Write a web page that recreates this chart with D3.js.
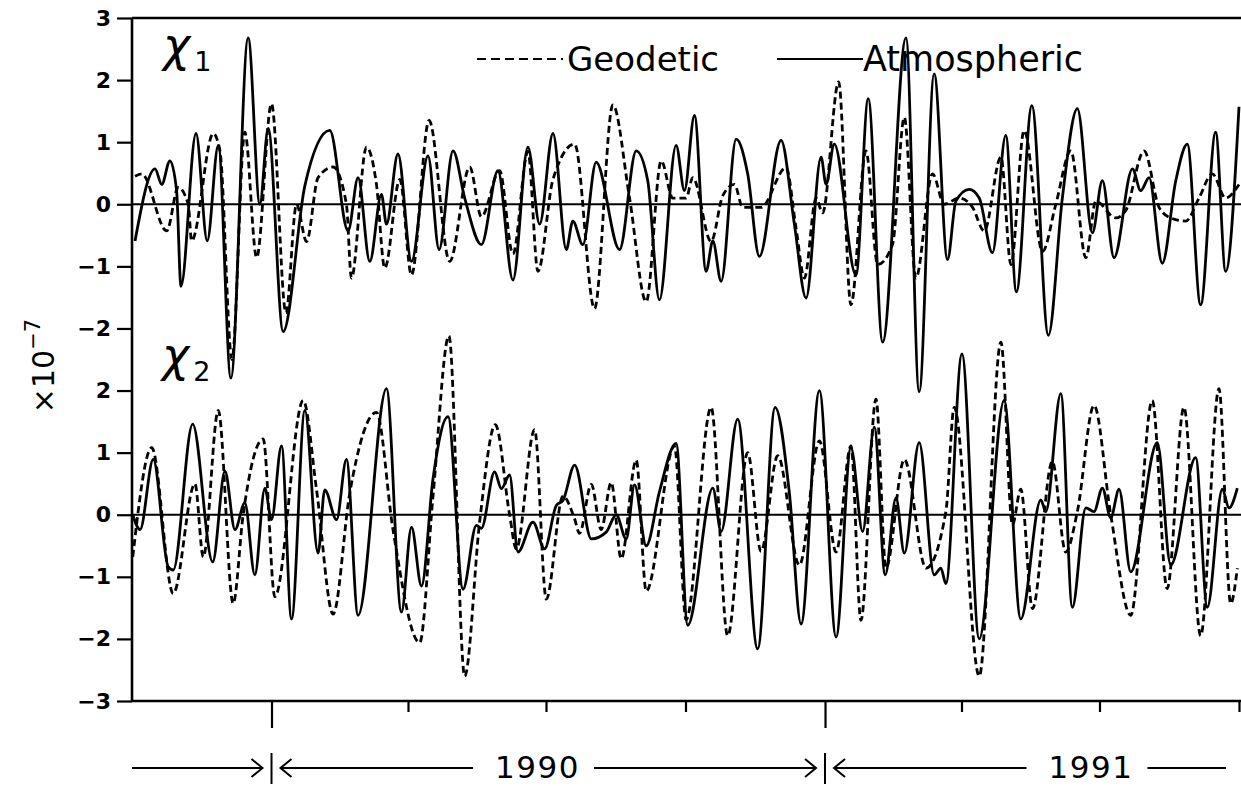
<!DOCTYPE html>
<html>
<head>
<meta charset="utf-8">
<script src="https://cdn.jsdelivr.net/npm/d3@7"></script>
<style>
  body { margin: 0; background: #fff; }
  svg { display: block; }
</style>
</head>
<body>
<svg id="chart" width="1241" height="786"></svg>
<script>
// days after 1 Oct 1989 and values in units of 1e-7

// chi1, atmospheric (solid)
var chi1AtmDays = [2.0, 15.2, 19.6, 25.0, 29.4, 32.3, 42.2, 49.6, 56.9, 65.2, 76.6, 84.3, 89.8, 99.7, 114.0, 130.4,
    142.5, 149.1, 156.8, 164.5, 167.8, 175.4, 184.3, 195.2, 202.5, 211.7, 219.4, 230.4, 241.3, 251.2, 261.1, 268.8,
    277.6, 286.4, 290.7, 297.3, 306.1, 321.5, 332.5, 340.1, 347.8, 358.8, 364.3, 370.9, 378.6, 383.0, 388.5, 398.4,
    406.0, 413.7, 428.0, 436.8, 444.5, 454.4, 457.7, 463.1, 477.4, 485.5, 495.0, 510.4, 519.1, 529.0, 537.8, 543.3,
    552.1, 558.7, 567.4, 576.2, 583.2, 593.4, 604.3, 613.5, 623.4, 633.3, 639.9, 647.6, 659.7, 665.2, 670.7, 679.4,
    688.3, 695.9, 704.7, 714.6, 721.2, 730.0];
var chi1AtmVals = [-0.59, 0.57, 0.32, 0.70, 0.22, -1.32, 1.14, -0.59, 0.95, -2.8, 2.68, 0.0, 1.22, -2.05, 0.3, 1.19,
    -0.43, 0.43, -0.92, 0.16, -0.32, 0.81, -0.92, 0.78, -0.73, 0.86, 0.1, -0.65, 0.54, -1.22, 0.92, -0.32,
    1.14, -0.73, -0.27, -0.65, 0.68, -0.73, 0.86, 0.38, -1.54, 0.95, 0.22, 1.43, -1.08, -0.59, -1.24, 1.05,
    0.49, -0.84, 1.03, -0.32, -1.51, 0.76, 0.32, 0.97, -1.14, 1.7, -2.22, 2.68, -3.02, 2.1, -0.89, 0.05,
    0.24, 0.1, -0.78, 1.11, -1.41, 1.59, -2.11, 0.1, 1.54, -0.46, 0.38, -0.86, 0.57, 0.22, 0.43, -0.95,
    0.38, 0.97, -1.62, 1.16, -1.08, 1.57];

// chi1, geodetic (dashed)
var chi1GeoDays = [2.0, 6.4, 22.9, 30.5, 37.1, 39.3, 53.6, 58.0, 65.9, 74.4, 82.2, 92.0, 101.5, 108.5, 115.1, 122.7,
    132.6, 141.4, 144.7, 154.6, 161.2, 166.7, 176.6, 184.3, 195.9, 209.5, 222.7, 230.4, 242.4, 251.2, 261.1, 267.7,
    277.6, 291.9, 305.0, 317.1, 328.1, 339.1, 349.0, 356.6, 365.4, 369.8, 381.9, 389.6, 397.3, 402.7, 414.8, 431.3,
    437.9, 443.4, 451.1, 455.4, 466.0, 474.1, 484.0, 491.7, 501.5, 509.3, 516.9, 527.9, 535.6, 545.5, 554.3, 562.0,
    573.0, 579.6, 588.3, 600.4, 609.2, 619.1, 629.0, 635.6, 648.7, 655.3, 667.4, 677.3, 685.0, 694.9, 703.6, 712.4,
    721.2, 730.0];
var chi1GeoVals = [0.45, 0.49, -0.43, 0.27, 0.0, -0.59, 1.14, 0.86, -2.5, 1.16, -0.86, 1.62, -1.75, 0.0, -0.6, 0.43,
    0.6, 0.0, -1.19, 0.92, 0.32, -1.03, 0.4, -1.14, 1.35, -0.92, 0.6, -0.2, 0.54, -0.8, 0.85, -1.08,
    0.4, 0.97, -1.68, 1.6, 0.1, -1.57, 0.7, 0.1, 0.1, 0.43, -0.6, 0.14, 0.32, -0.05, -0.05, 0.59,
    -0.38, -1.19, 0.1, -0.14, 1.97, -1.62, 0.86, -0.97, -0.65, 1.4, -1.19, 0.49, 0.0, 0.1, -0.05, -0.43,
    0.76, -0.97, 1.19, -0.76, 0.0, 0.86, -0.86, 0.05, -0.22, -0.1, 0.86, -0.05, -0.22, -0.27, 0.1, 0.49,
    0.1, 0.32];

// chi2, atmospheric (solid)
var chi2AtmDays = [0.5, 5.3, 14.0, 23.9, 27.2, 40.0, 53.2, 61.3, 67.9, 74.4, 81.0, 87.6, 92.0, 98.6, 105.2, 114.0,
    122.7, 127.1, 134.9, 141.4, 149.1, 167.8, 177.7, 184.3, 190.9, 198.5, 208.4, 218.3, 227.1, 230.4, 239.1, 243.6,
    249.0, 254.5, 264.4, 272.1, 279.8, 284.2, 291.9, 302.9, 312.7, 319.3, 325.9, 331.4, 339.1, 347.8, 358.8, 366.5,
    383.0, 388.5, 399.4, 412.6, 424.1, 433.5, 441.2, 453.3, 464.3, 474.1, 481.8, 489.5, 496.7, 503.8, 509.3, 519.1,
    529.0, 533.4, 536.7, 547.3, 558.7, 575.1, 586.1, 599.3, 602.6, 612.5, 620.1, 629.0, 634.4, 639.9, 645.4, 650.9,
    658.6, 676.1, 685.0, 701.4, 709.1, 719.0, 723.4, 728.9];
var chi2AtmVals = [0.0, -0.24, 0.89, -0.84, -0.89, 1.46, -0.76, 0.7, -0.24, 0.19, -0.97, 0.43, -0.08, 1.11, -1.68, 1.68,
    -0.62, 0.4, -0.08, 0.89, -1.62, 2.03, -1.57, -0.2, -1.15, 0.58, 1.58, -1.2, -0.17, -0.22, 0.69, 0.42,
    0.64, -0.6, -0.12, -0.55, 0.15, 0.23, 0.8, -0.39, -0.28, 0.0, -0.39, 0.48, -0.5, 0.37, 1.15, -1.78,
    0.43, -0.27, 1.54, -2.16, 1.73, 0.35, -1.76, 2.0, -1.97, 1.08, -0.27, 1.41, -0.97, 0.27, -0.62, 1.16,
    -0.97, -0.86, -1.11, 2.59, -2.0, 1.84, -1.68, 0.24, 0.05, 1.95, -1.49, 0.11, 0.05, 0.43, -0.05, 0.41,
    -0.92, 1.16, -0.81, 0.92, -1.49, 0.41, 0.11, 0.43];

// chi2, geodetic (dashed)
var chi2GeoDays = [0.5, 13.0, 27.2, 41.5, 47.0, 56.9, 66.7, 73.3, 86.5, 94.2, 112.9, 121.7, 132.6, 143.6, 161.2, 172.1,
    189.7, 198.5, 209.0, 219.4, 229.3, 239.6, 249.0, 253.4, 265.5, 273.2, 284.2, 291.9, 295.1, 302.9, 309.4, 316.0,
    322.6, 332.5, 339.1, 357.7, 365.4, 381.9, 392.8, 406.0, 414.8, 425.8, 440.1, 453.3, 464.3, 474.1, 480.7, 490.6,
    497.2, 509.3, 523.6, 536.7, 542.2, 558.7, 573.0, 580.6, 586.1, 593.8, 606.9, 615.7, 623.4, 634.4, 645.4, 658.6,
    672.8, 682.6, 693.7, 704.7, 716.8, 724.5, 728.9];
var chi2GeoVals = [-0.68, 1.08, -1.27, 0.5, -0.68, 1.68, -1.43, 0.0, 1.22, -1.32, 1.84, 0.4, -1.6, 0.35, 1.65, -0.24,
    -2.06, 0.3, 2.88, -2.6, -0.1, 1.45, 0.0, -0.55, 1.37, -1.36, 0.3, -0.07, -0.3, 0.49, -0.24, 0.52,
    -0.71, 0.88, -1.23, 1.11, -1.69, 1.73, -1.95, 1.0, -0.59, 0.95, -0.81, 1.19, -0.6, 1.11, -1.7, 1.86,
    -0.86, 0.89, -0.86, 0.05, 1.73, -2.6, 2.78, -0.16, 0.41, -1.51, 0.86, -0.6, 0.05, 1.76, 0.0, -1.62,
    1.84, -1.19, 1.73, -1.95, 2.03, -1.43, -0.86];

var topTicks = [3, 2, 1, 0, -1, -2];
var bottomTicks = [2, 1, 0, -1, -2, -3];
var yearLabels = ["1990", "1991"];
var legendLabels = ["Geodetic", "Atmospheric"];

var W = 1241, H = 786;
var plotLeft = 132, plotRight = 1239, plotTop = 18, plotBottom = 701;
var start = new Date(1989, 9, 1), end = new Date(1991, 9, 1);

var svg = d3.select("#chart");
var font = "'DejaVu Sans', sans-serif";

var x = d3.scaleTime().domain([start, end]).range([plotLeft, plotRight]);
// the two panels share one axis column: top panel 3..-8, bottom panel 8..-3
var yTop = d3.scaleLinear().domain([-8, 3]).range([plotBottom, plotTop]);
var yBot = d3.scaleLinear().domain([-3, 8]).range([plotBottom, plotTop]);

function toDate(day) { return new Date(+start + day * 864e5); }
function zip(days, vals) { return days.map(function (d, i) { return [toDate(d), vals[i]]; }); }

svg.append("defs").append("clipPath").attr("id", "plot")
    .append("rect").attr("x", plotLeft).attr("y", plotTop).attr("width", W - plotLeft).attr("height", plotBottom - plotTop);

// zero lines
[yTop(0), yBot(0)].forEach(function (y0) {
    svg.append("line").attr("x1", plotLeft).attr("x2", W).attr("y1", y0).attr("y2", y0)
        .attr("stroke", "#000").attr("stroke-width", 2.2);
});

function drawSeries(data, yScale, dashed) {
    var line = d3.line()
        .x(function (d) { return x(d[0]); })
        .y(function (d) { return yScale(d[1]); })
        .curve(d3.curveMonotoneX);
    svg.append("path")
        .attr("clip-path", "url(#plot)")
        .attr("d", line(data))
        .attr("fill", "none")
        .attr("stroke", "#000")
        .attr("stroke-width", 2.8)
        .attr("stroke-linejoin", "round")
        .attr("stroke-dasharray", dashed ? "7,4" : null);
}

drawSeries(zip(chi1GeoDays, chi1GeoVals), yTop, true);
drawSeries(zip(chi1AtmDays, chi1AtmVals), yTop, false);
drawSeries(zip(chi2GeoDays, chi2GeoVals), yBot, true);
drawSeries(zip(chi2AtmDays, chi2AtmVals), yBot, false);

// frame: top line
svg.append("line").attr("x1", plotLeft).attr("x2", W).attr("y1", plotTop).attr("y2", plotTop)
    .attr("stroke", "#000").attr("stroke-width", 2.6);

// left axis, one for each panel
function leftAxis(scale, ticks) {
    var g = svg.append("g").attr("transform", "translate(" + plotLeft + ",0)")
        .call(d3.axisLeft(scale).tickValues(ticks).tickSize(15).tickPadding(6)
            .tickFormat(function (d) { return d < 0 ? "\u2212" + Math.abs(d) : d; }));
    g.select(".domain").remove();
    g.selectAll("line").attr("stroke", "#000").attr("stroke-width", 2.2);
    g.selectAll("text").attr("font-family", font).attr("font-weight", "bold")
        .attr("font-size", 22).attr("fill", "#000");
}
leftAxis(yTop, topTicks);
leftAxis(yBot, bottomTicks);
svg.append("line").attr("x1", plotLeft).attr("x2", plotLeft).attr("y1", plotTop).attr("y2", plotBottom)
    .attr("stroke", "#000").attr("stroke-width", 2.6);

// bottom axis with quarterly ticks, longer ones at the start of each year
var gx = svg.append("g").attr("transform", "translate(0," + plotBottom + ")")
    .call(d3.axisBottom(x).ticks(d3.timeMonth.every(3)).tickSize(11).tickFormat(""));
gx.select(".domain").remove();
gx.selectAll(".tick line").attr("stroke", "#000").attr("stroke-width", 2.2)
    .attr("y2", function (d) { return d.getMonth() === 0 ? 27 : (+d === +start ? 0 : 11); });
svg.append("line").attr("x1", plotLeft).attr("x2", W).attr("y1", plotBottom).attr("y2", plotBottom)
    .attr("stroke", "#000").attr("stroke-width", 2.6);

// year span arrows under the axis
var ya = 768;
var bars = [new Date(1990, 0, 1), new Date(1991, 0, 1)].map(x);
var arrows = svg.append("g").attr("stroke", "#000").attr("stroke-width", 2).attr("fill", "none");
function hline(x1, x2) { arrows.append("line").attr("x1", x1).attr("x2", x2).attr("y1", ya).attr("y2", ya); }
function head(tip, dir) {
    arrows.append("path").attr("d", "M" + (tip - dir * 11) + "," + (ya - 9) + "L" + tip + "," + ya + "L" + (tip - dir * 11) + "," + (ya + 9));
}
hline(plotLeft, bars[0] - 9); head(bars[0] - 9, 1);
bars.forEach(function (bx, i) {
    arrows.append("line").attr("x1", bx).attr("x2", bx).attr("y1", ya - 15).attr("y2", ya + 16);
    head(bx + 9, -1);
    var t = svg.append("text").attr("x", bx + 266).attr("y", ya + 10)
        .attr("text-anchor", "middle").attr("font-family", font).attr("font-size", 31)
        .attr("letter-spacing", 1.5).text(yearLabels[i]);
    var bb = t.node().getBBox();
    hline(bx + 9, bb.x - 22);
    if (i === 0) {
        hline(bb.x + bb.width + 14, bars[1] - 9); head(bars[1] - 9, 1);
    } else {
        hline(bb.x + bb.width + 14, 1226);
    }
});

// legend
var legend = svg.append("g").attr("font-family", font).attr("font-size", 34);
legend.append("line").attr("x1", 477).attr("x2", 563).attr("y1", 59).attr("y2", 59)
    .attr("stroke", "#000").attr("stroke-width", 2.2).attr("stroke-dasharray", "9,5");
legend.append("text").attr("x", 567).attr("y", 71).text(legendLabels[0]);
legend.append("line").attr("x1", 777).attr("x2", 863).attr("y1", 59).attr("y2", 59)
    .attr("stroke", "#000").attr("stroke-width", 2.2);
legend.append("text").attr("x", 863).attr("y", 71).attr("font-size", 35).text(legendLabels[1]);

// panel labels
function chiLabel(xp, yp, sub) {
    var t = svg.append("text").attr("x", xp).attr("y", yp).attr("font-family", font);
    t.append("tspan").attr("font-size", 46).attr("font-style", "italic").text("\u03C7");
    t.append("tspan").attr("font-size", 27).attr("dx", 4).attr("dy", 10).text(sub);
}
chiLabel(163, 61, "1");
chiLabel(162, 371, "2");

// y label
var yl = svg.append("text").attr("transform", "translate(54,366) rotate(-90)")
    .attr("text-anchor", "middle").attr("font-family", font).attr("font-size", 30);
yl.append("tspan").text("\u00D710");
yl.append("tspan").attr("font-size", 21).attr("dy", -14).text("\u22127");
</script>
</body>
</html>
